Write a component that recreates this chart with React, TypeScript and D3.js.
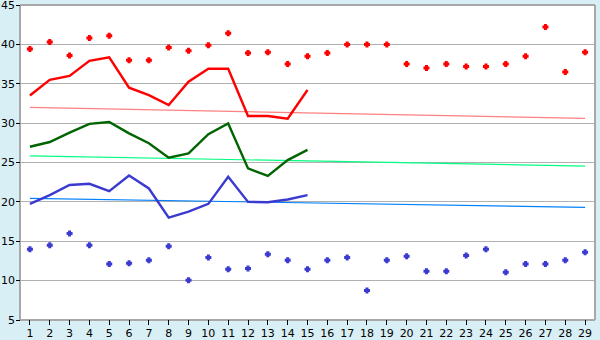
import React from "react";
import * as d3 from "d3";

const days = d3.range(1, 30).map(String);
const yTicks = [5, 10, 15, 20, 25, 30, 35, 40, 45];

const redPoints = [39.4, 40.3, 38.6, 40.8, 41.1, 38.0, 38.0, 39.6, 39.2, 39.9, 41.4, 38.9, 39.0, 37.5, 38.5, 38.9, 40.0, 40.0, 40.0, 37.5, 37.0, 37.5, 37.2, 37.2, 37.5, 38.5, 42.2, 36.5, 39.0];
const redLine = [33.5, 35.5, 36.0, 37.9, 38.35, 34.5, 33.55, 32.3, 35.25, 36.9, 36.9, 30.9, 30.9, 30.55, 34.2];
const greenLine = [27.0, 27.6, 28.8, 29.9, 30.15, 28.7, 27.45, 25.6, 26.15, 28.6, 29.95, 24.25, 23.3, 25.3, 26.6];
const blueLine = [19.75, 20.85, 22.15, 22.3, 21.35, 23.35, 21.7, 18.0, 18.75, 19.75, 23.2, 20.0, 19.95, 20.3, 20.85];
const bluePoints = [14.0, 14.5, 16.0, 14.5, 12.1, 12.2, 12.6, 14.35, 10.05, 12.95, 11.45, 11.55, 13.35, 12.6, 11.45, 12.6, 12.95, 8.75, 12.6, 13.1, 11.2, 11.2, 13.2, 14.0, 11.05, 12.1, 12.1, 12.6, 13.6];
const redTrend = [32.0, 30.6];
const greenTrend = [25.85, 24.55];
const blueTrend = [20.45, 19.3];

const W = 600;
const H = 340;
const L = 20;
const R = 595;
const T = 5;
const B = 320;

// plus-shaped marker: arm half-width a, half-extent e
const markerPath = (a: number, e: number) => {
  const p = d3.path();
  p.moveTo(-a, -e);
  p.lineTo(a, -e);
  p.lineTo(a, -a);
  p.lineTo(e, -a);
  p.lineTo(e, a);
  p.lineTo(a, a);
  p.lineTo(a, e);
  p.lineTo(-a, e);
  p.lineTo(-a, a);
  p.lineTo(-e, a);
  p.lineTo(-e, -a);
  p.lineTo(-a, -a);
  p.closePath();
  return p.toString();
};

export default function App() {
  const x = d3.scalePoint<string>().domain(days).range([L, R]).padding(0.5);
  const y = d3.scaleLinear().domain([5, 45]).range([B, T]);
  const xi = (i: number) => x(days[i]) as number;

  const line = d3
    .line<number>()
    .x((_, i) => xi(i))
    .y((d) => y(d));

  const trendPath = (t: number[]) =>
    `M${xi(0)},${y(t[0])}L${xi(days.length - 1)},${y(t[1])}`;

  const cross = markerPath(1.5, 3);
  const font = "DejaVu Sans, Verdana, sans-serif";

  return (
    <svg
      width={W}
      height={H}
      style={{ position: "fixed", left: 0, top: 0 }}
    >
      <rect x={0} y={0} width={W} height={H} fill="#d9eff6" />
      <rect x={L} y={T} width={R - L} height={B - T} fill="#ffffff" />
      {yTicks.slice(1, -1).map((t) => (
        <line key={t} x1={L} x2={R} y1={y(t)} y2={y(t)} stroke="#b0b0b0" strokeWidth={1} shapeRendering="crispEdges" />
      ))}
      {/* border */}
      <line x1={L} x2={R} y1={T} y2={T} stroke="#a8a8a8" strokeWidth={2} shapeRendering="crispEdges" />
      <line x1={R} x2={R} y1={T} y2={B} stroke="#a8a8a8" strokeWidth={2} shapeRendering="crispEdges" />
      <line x1={L} x2={L} y1={T} y2={B} stroke="#a8a8a8" strokeWidth={1.5} shapeRendering="crispEdges" />
      <line x1={L} x2={R} y1={B} y2={B} stroke="#a8a8a8" strokeWidth={1.5} shapeRendering="crispEdges" />
      {/* y ticks */}
      {yTicks.map((t) => (
        <g key={t}>
          <line x1={L - 4} x2={L} y1={y(t)} y2={y(t)} stroke="#000" strokeWidth={1} shapeRendering="crispEdges" />
          <text x={L - 5} y={y(t)} dy="0.35em" textAnchor="end" fontFamily={font} fontSize={11} fill="#000">
            {t}
          </text>
        </g>
      ))}
      {/* x ticks */}
      {days.map((d) => (
        <g key={d}>
          <line x1={x(d)} x2={x(d)} y1={B} y2={B + 5} stroke="#000" strokeWidth={1} shapeRendering="crispEdges" />
          <text x={x(d)} y={B + 17} textAnchor="middle" fontFamily={font} fontSize={11} fill="#000">
            {d}
          </text>
        </g>
      ))}
      {/* trends */}
      <path d={trendPath(redTrend)} stroke="#ff8080" strokeWidth={1.2} fill="none" />
      <path d={trendPath(greenTrend)} stroke="#00ff80" strokeWidth={1.2} fill="none" />
      <path d={trendPath(blueTrend)} stroke="#0080ff" strokeWidth={1.2} fill="none" />
      {/* lines */}
      <path d={line(redLine) as string} stroke="#ff0000" strokeWidth={2.4} fill="none" />
      <path d={line(greenLine) as string} stroke="#006400" strokeWidth={2.4} fill="none" />
      <path d={line(blueLine) as string} stroke="#3a3ad0" strokeWidth={2.4} fill="none" />
      {/* points */}
      {redPoints.map((v, i) => (
        <path key={"r" + i} d={cross} transform={`translate(${xi(i)},${y(v)})`} fill="#ff0000" />
      ))}
      {bluePoints.map((v, i) => (
        <path key={"b" + i} d={cross} transform={`translate(${xi(i)},${y(v)})`} fill="#3a3ad0" />
      ))}
    </svg>
  );
}
